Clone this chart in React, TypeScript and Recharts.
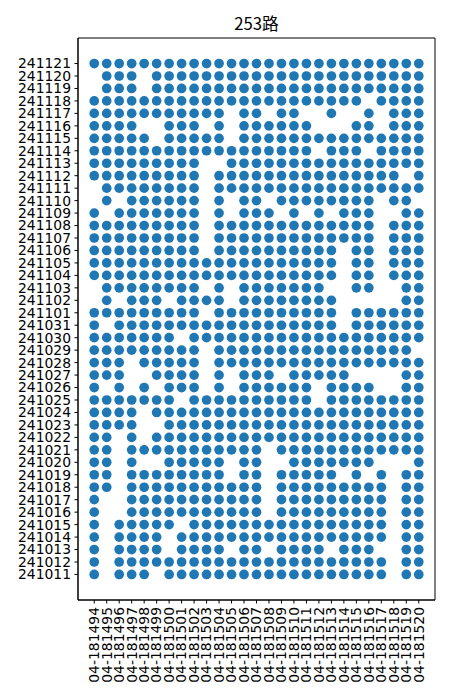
import { ScatterChart, Scatter, XAxis, YAxis, ReferenceArea } from 'recharts';

const stations = [
  '04-181494', '04-181495', '04-181496', '04-181497', '04-181498', '04-181499',
  '04-181500', '04-181501', '04-181502', '04-181503', '04-181504', '04-181505',
  '04-181506', '04-181507', '04-181508', '04-181509', '04-181510', '04-181511',
  '04-181512', '04-181513', '04-181514', '04-181515', '04-181516', '04-181517',
  '04-181518', '04-181519', '04-181520',
];

// bottom to top
const dates = [
  '241011', '241012', '241013', '241014', '241015', '241016', '241017',
  '241018', '241019', '241020', '241021', '241022', '241023', '241024',
  '241025', '241026', '241027', '241028', '241029', '241030', '241031',
  '241101', '241102', '241103', '241104', '241105', '241106', '241107',
  '241108', '241109', '241110', '241111', '241112', '241113', '241114',
  '241115', '241116', '241117', '241118', '241119', '241120', '241121',
];

// station indexes with no dot, one list per date (same order as dates)
const missing: number[][] = [
  [1, 5, 24],
  [1, 24],
  [1, 6, 11, 14, 19, 23, 24],
  [1, 6, 24],
  [1, 7, 24],
  [1, 2, 14, 24],
  [1, 2, 14, 24],
  [2, 14, 24],
  [2, 11, 14, 20, 22, 24],
  [2, 4, 5, 11, 14, 15, 23, 24, 25],
  [2, 14],
  [2, 4],
  [4, 5],
  [4],
  [7, 18],
  [1, 3, 5, 9, 11, 18, 23, 24],
  [3, 4, 9, 11, 15, 21, 22, 23, 24],
  [3, 9],
  [9, 26],
  [7],
  [1, 20],
  [9, 20],
  [0, 2, 6, 11, 20, 21, 22, 23, 24],
  [0, 9, 11, 19, 20, 23, 24],
  [20, 23],
  [20, 23],
  [9, 20, 23],
  [9, 23],
  [9, 23],
  [1, 9, 11, 15, 17, 19, 23, 24],
  [0, 2, 9, 11, 14, 23, 26],
  [0, 9],
  [9, 25],
  [9, 10],
  [18, 22],
  [5, 11],
  [4, 5, 9, 11, 18, 19, 20, 23],
  [11, 14, 17, 18, 20, 21, 23],
  [22],
  [0, 4],
  [0, 4],
  [],
];

const points: { x: number; y: number }[] = [];
dates.forEach((_, yi) => {
  stations.forEach((_, xi) => {
    if (!missing[yi].includes(xi)) points.push({ x: xi, y: yi });
  });
});

const xDomain = [-1.3, stations.length - 1 + 1.3];
const yDomain = [-2.05, dates.length - 1 + 2.05];
const font = 'DejaVu Sans, sans-serif';

const StationTick = (props: any) => {
  const { x, y, payload } = props;
  return (
    <text
      x={x}
      y={y}
      transform={`rotate(-90, ${x}, ${y})`}
      textAnchor="end"
      dy="0.35em"
      fontSize={13.9}
      fontFamily={font}
      fill="#000"
    >
      {stations[payload.value]}
    </text>
  );
};

const Dot = (p: any) => <circle cx={p.cx} cy={p.cy} r={4.85} fill="#1f77b4" />;

export default function App() {
  return (
    <div style={{ position: 'absolute', left: 0, top: 0, width: 450, height: 700, background: '#fff' }}>
      <svg width={450} height={40} style={{ position: 'absolute', left: 0, top: 0 }}>
        <text x={256.5} y={30} textAnchor="middle" fontSize={16.7} fontFamily="Noto Sans CJK SC, DejaVu Sans" fill="#000">
          253路
        </text>
      </svg>
      <ScatterChart width={450} height={700} margin={{ top: 38, right: 15, bottom: 0, left: 0 }}>
        <XAxis
          type="number"
          dataKey="x"
          domain={xDomain}
          allowDataOverflow
          ticks={stations.map((_, i) => i)}
          interval={0}
          height={100}
          tickSize={3.5}
          tickMargin={3.5}
          stroke="#000"
          tick={<StationTick />}
        />
        <YAxis
          type="number"
          dataKey="y"
          domain={yDomain}
          allowDataOverflow
          ticks={dates.map((_, i) => i)}
          tickFormatter={(v: number) => dates[v]}
          interval={0}
          width={78}
          tickSize={3.5}
          tickMargin={3.5}
          stroke="#000"
          tick={{ fill: '#000', fontSize: 13.9, fontFamily: font }}
        />
        <ReferenceArea
          x1={xDomain[0]}
          x2={xDomain[1]}
          y1={yDomain[0]}
          y2={yDomain[1]}
          fill="none"
          stroke="#000"
          strokeWidth={1}
          ifOverflow="visible"
        />
        <Scatter data={points} shape={Dot} isAnimationActive={false} />
      </ScatterChart>
    </div>
  );
}
